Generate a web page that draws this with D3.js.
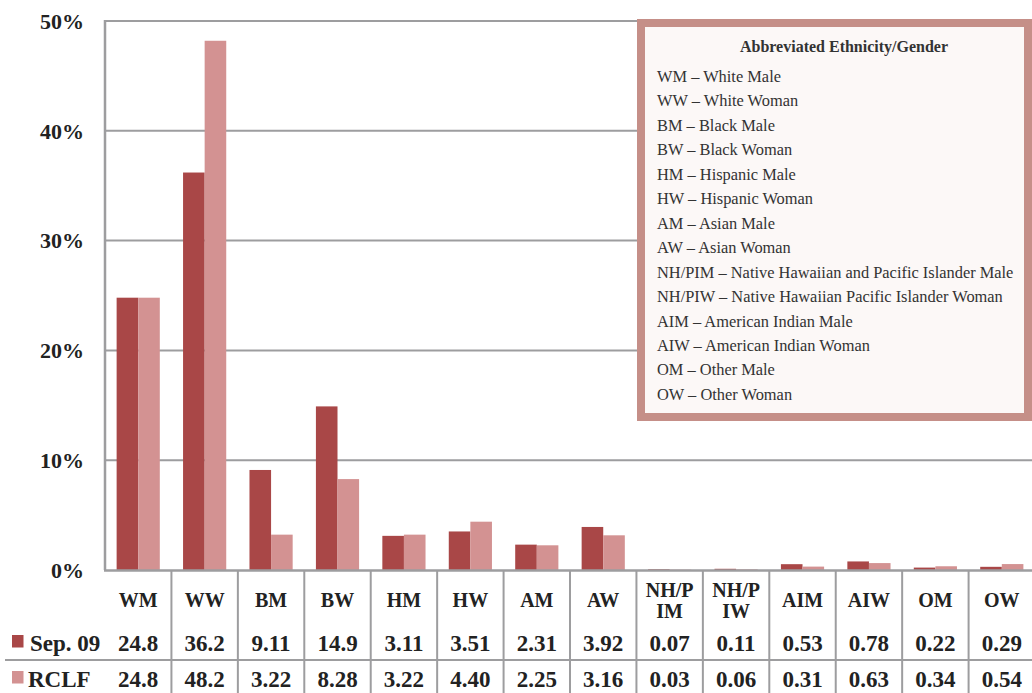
<!DOCTYPE html>
<html>
<head>
<meta charset="utf-8">
<script src="https://cdn.jsdelivr.net/npm/d3@7"></script>
<style>
  html, body { margin: 0; padding: 0; background: #fff; }
  svg { display: block; }
</style>
</head>
<body>
<svg id="chart" width="1032" height="693"></svg>
<script>
// Categories (abbreviated ethnicity/gender) and the two series, in percent
const categories = ["WM", "WW", "BM", "BW", "HM", "HW", "AM", "AW", "NH/PIM", "NH/PIW", "AIM", "AIW", "OM", "OW"];
const seriesNames = ["Sep. 09", "RCLF"];
const sep09 = [24.8, 36.2, 9.11, 14.9, 3.11, 3.51, 2.31, 3.92, 0.07, 0.11, 0.53, 0.78, 0.22, 0.29];
const rclf  = [24.8, 48.2, 3.22, 8.28, 3.22, 4.40, 2.25, 3.16, 0.03, 0.06, 0.31, 0.63, 0.34, 0.54];
const seriesLabels = [
  ["24.8","36.2","9.11","14.9","3.11","3.51","2.31","3.92","0.07","0.11","0.53","0.78","0.22","0.29"],
  ["24.8","48.2","3.22","8.28","3.22","4.40","2.25","3.16","0.03","0.06","0.31","0.63","0.34","0.54"]
];
const yTicks = [0, 10, 20, 30, 40, 50];
const legendTitle = "Abbreviated Ethnicity/Gender";
const legendEntries = [
  "WM – White Male",
  "WW – White Woman",
  "BM – Black Male",
  "BW – Black Woman",
  "HM – Hispanic Male",
  "HW – Hispanic Woman",
  "AM – Asian Male",
  "AW – Asian Woman",
  "NH/PIM – Native Hawaiian and Pacific Islander Male",
  "NH/PIW – Native Hawaiian Pacific Islander Woman",
  "AIM – American Indian Male",
  "AIW – American Indian Woman",
  "OM – Other Male",
  "OW – Other Woman"
];

const colors = ["#a94747", "#d39292"];
const gridColor = "#9d9d9f";
const serif = "'Liberation Serif', 'Times New Roman', serif";

const svg = d3.select("#chart");
const plot = { left: 105, top: 21, bottom: 570, right: 105 + 14 * 66.43 };

const x0 = d3.scaleBand()
  .domain(categories)
  .range([plot.left, plot.right])
  .paddingInner(0.35)
  .paddingOuter(0.175);
const x1 = d3.scaleBand()
  .domain(seriesNames)
  .range([0, x0.bandwidth()]);
const y = d3.scaleLinear().domain([0, 50]).range([plot.bottom, plot.top]);

// Horizontal gridlines
svg.append("g")
  .selectAll("line")
  .data(yTicks.filter(t => t > 0))
  .join("line")
  .attr("x1", plot.left).attr("x2", plot.right)
  .attr("y1", d => y(d)).attr("y2", d => y(d))
  .attr("stroke", gridColor).attr("stroke-width", 2);

// Left border of the plot
svg.append("line")
  .attr("x1", plot.left).attr("x2", plot.left)
  .attr("y1", plot.top - 1).attr("y2", plot.bottom)
  .attr("stroke", gridColor).attr("stroke-width", 2.5);

// Y tick labels
svg.append("g")
  .selectAll("text")
  .data(yTicks)
  .join("text")
  .attr("x", 84)
  .attr("y", d => y(d))
  .attr("dy", "0.35em")
  .attr("text-anchor", "end")
  .attr("font-family", serif)
  .attr("font-weight", "bold")
  .attr("font-size", 22)
  .attr("fill", "#222")
  .text(d => d + "%");

// Grouped bars
const rows = categories.map((c, i) => ({ cat: c, vals: [sep09[i], rclf[i]] }));
svg.append("g")
  .selectAll("g")
  .data(rows)
  .join("g")
  .attr("transform", d => `translate(${x0(d.cat)},0)`)
  .selectAll("rect")
  .data(d => d.vals.map((v, k) => ({ key: seriesNames[k], v, k })))
  .join("rect")
  .attr("x", d => x1(d.key))
  .attr("width", x1.bandwidth())
  .attr("y", d => y(d.v))
  .attr("height", d => y(0) - y(d.v))
  .attr("fill", d => colors[d.k]);

// X axis line
svg.append("line")
  .attr("x1", plot.left - 1).attr("x2", 1032)
  .attr("y1", plot.bottom + 0.5).attr("y2", plot.bottom + 0.5)
  .attr("stroke", gridColor).attr("stroke-width", 2.5);

// Data table under the chart
const step = x0.step();
const table = svg.append("g");
const boundaries = d3.range(1, categories.length + 1).map(i => plot.left + i * step);
table.selectAll("line.v")
  .data(boundaries)
  .join("line")
  .attr("class", "v")
  .attr("x1", d => d).attr("x2", d => d)
  .attr("y1", plot.bottom).attr("y2", 693)
  .attr("stroke", gridColor).attr("stroke-width", 2);
table.append("line")
  .attr("x1", 5).attr("x2", 1032)
  .attr("y1", 660).attr("y2", 660)
  .attr("stroke", gridColor).attr("stroke-width", 2);

// Category header cells (long labels wrap after four characters)
const header = table.selectAll("text.h")
  .data(categories)
  .join("text")
  .attr("class", "h")
  .attr("text-anchor", "middle")
  .attr("font-family", serif)
  .attr("font-weight", "bold")
  .attr("font-size", 20)
  .attr("fill", "#222");
header.each(function(d) {
  const cx = x0(d) + x0.bandwidth() / 2;
  const t = d3.select(this);
  const lines = d.length > 4 ? [d.slice(0, 4), d.slice(4)] : [d];
  if (lines.length === 1) {
    t.append("tspan").attr("x", cx).attr("y", 607).text(lines[0]);
  } else {
    t.append("tspan").attr("x", cx).attr("y", 597).text(lines[0]);
    t.append("tspan").attr("x", cx).attr("y", 618).text(lines[1]);
  }
});

// Series rows
const rowBaselines = [651, 687];
seriesNames.forEach((name, k) => {
  const by = rowBaselines[k];
  table.append("rect")
    .attr("x", 12).attr("y", by - 16)
    .attr("width", 11.5).attr("height", 12.5)
    .attr("fill", colors[k]);
  table.append("text")
    .attr("x", k === 0 ? 30 : 28).attr("y", by)
    .attr("font-family", serif)
    .attr("font-weight", "bold")
    .attr("font-size", 23)
    .attr("fill", "#222")
    .text(name);
  table.selectAll("text.v" + k)
    .data(categories)
    .join("text")
    .attr("class", "v" + k)
    .attr("x", d => x0(d) + x0.bandwidth() / 2)
    .attr("y", by)
    .attr("text-anchor", "middle")
    .attr("font-family", serif)
    .attr("font-weight", "bold")
    .attr("font-size", 23)
    .attr("fill", "#222")
    .text((d, i) => seriesLabels[k][i]);
});

// Abbreviation key box
const key = svg.append("g");
key.append("rect")
  .attr("x", 641).attr("y", 23)
  .attr("width", 387).attr("height", 394)
  .attr("fill", "#fcf8f7")
  .attr("stroke", "#c58f88")
  .attr("stroke-width", 8);
key.append("text")
  .attr("x", 844).attr("y", 52)
  .attr("text-anchor", "middle")
  .attr("font-family", serif)
  .attr("font-weight", "bold")
  .attr("font-size", 16)
  .attr("fill", "#333")
  .text(legendTitle);
key.selectAll("text.e")
  .data(legendEntries)
  .join("text")
  .attr("class", "e")
  .attr("x", 657)
  .attr("y", (d, i) => 82 + i * 24.45)
  .attr("font-family", serif)
  .attr("font-size", 16.4)
  .attr("fill", "#333")
  .text(d => d);
</script>
</body>
</html>
